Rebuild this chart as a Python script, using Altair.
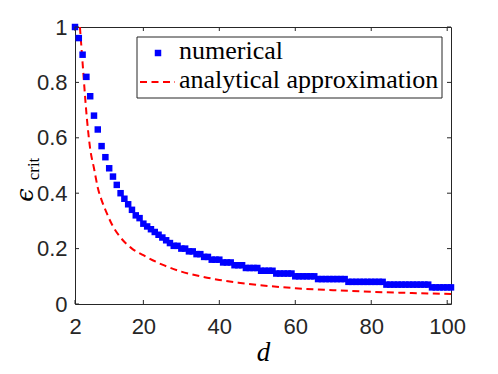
import altair as alt
import pandas as pd

# ---------------- data ----------------
d_num = list(range(2, 102))
eps_num = [
    1.00, 0.96, 0.90, 0.82, 0.75, 0.68, 0.63, 0.57, 0.53, 0.49,   # d 2-11
    0.46, 0.43, 0.40, 0.38, 0.36, 0.34, 0.32, 0.31, 0.29, 0.28,   # d 12-21
    0.27, 0.26, 0.25, 0.24, 0.23, 0.22, 0.21, 0.21, 0.20, 0.20,   # d 22-31
    0.19, 0.19, 0.18, 0.18, 0.17, 0.17, 0.16, 0.16, 0.16, 0.15,   # d 32-41
    0.15, 0.15, 0.14, 0.14, 0.14, 0.13, 0.13, 0.13, 0.13, 0.12,   # d 42-51
    0.12, 0.12, 0.12, 0.11, 0.11, 0.11, 0.11, 0.11, 0.10, 0.10,   # d 52-61
    0.10, 0.10, 0.10, 0.10, 0.09, 0.09, 0.09, 0.09, 0.09, 0.09,   # d 62-71
    0.09, 0.09, 0.08, 0.08, 0.08, 0.08, 0.08, 0.08, 0.08, 0.08,   # d 72-81
    0.08, 0.08, 0.07, 0.07, 0.07, 0.07, 0.07, 0.07, 0.07, 0.07,   # d 82-91
    0.07, 0.07, 0.07, 0.07, 0.06, 0.06, 0.06, 0.06, 0.06, 0.06,   # d 92-101
]
d_ana = [3.3, 4, 5, 6, 7, 8, 9, 10, 12, 14, 17, 20, 25, 30, 35, 40, 45, 50,
         60, 70, 80, 90, 101]
eps_ana = [1.00, 0.87, 0.69, 0.56, 0.49, 0.42, 0.375, 0.34, 0.28, 0.24, 0.20,
           0.176, 0.142, 0.117, 0.100, 0.087, 0.077, 0.069, 0.057, 0.050,
           0.044, 0.040, 0.036]
x_ticks = [2, 20, 40, 60, 80, 100]
y_ticks = [0, 0.2, 0.4, 0.6, 0.8, 1]
series_names = ["numerical", "analytical approximation"]
x_label = "d"
y_label_main = "\u03f5"
y_label_sub = "crit"

# ---------------- tables ----------------
df_num = pd.DataFrame({"d": d_num, "eps": eps_num})
df_ana = pd.DataFrame({"d": d_ana, "eps": eps_ana})
df_xt = pd.DataFrame({"d": x_ticks})
df_yt = pd.DataFrame({"eps": y_ticks})
one = pd.DataFrame({"k": [0]})

W, H = 376, 277
TICK = 4
AX = "#262626"
BLUE = "#0000ff"
RED = "#ff0000"

xs = alt.Scale(domain=[2, 101], nice=False, zero=False)
ys = alt.Scale(domain=[0, 1], nice=False, zero=False)

x_axis = alt.Axis(values=x_ticks, grid=False, domain=False, ticks=False,
                  labelFont="Liberation Sans", labelFontSize=22,
                  labelColor=AX, labelPadding=12, labelFlush=False,
                  title=x_label, titleFont="Liberation Serif",
                  titleFontStyle="italic", titleFontWeight="normal",
                  titleFontSize=27, titleColor="black", titlePadding=2)
y_axis = alt.Axis(values=y_ticks, grid=False, domain=False, ticks=False,
                  format=".1~f", labelFont="Liberation Sans",
                  labelFontSize=22, labelColor=AX, labelPadding=8,
                  title=None)

X = alt.X("d:Q", scale=xs, axis=x_axis)
Y = alt.Y("eps:Q", scale=ys, axis=y_axis)

points = alt.Chart(df_num).mark_square(size=42, color=BLUE, opacity=1).encode(x=X, y=Y)
line = alt.Chart(df_ana).mark_line(color=RED, strokeWidth=2, strokeDash=[7, 4.5],
                                   interpolate="monotone").encode(x=X, y=Y)

tb = alt.Chart(df_xt).mark_rule(color=AX, strokeWidth=1).encode(
    x=X, y=alt.value(H), y2=alt.value(H - TICK))
tt = alt.Chart(df_xt).mark_rule(color=AX, strokeWidth=1).encode(
    x=X, y=alt.value(0), y2=alt.value(TICK))
tl = alt.Chart(df_yt).mark_rule(color=AX, strokeWidth=1).encode(
    y=Y, x=alt.value(0), x2=alt.value(TICK))
tr = alt.Chart(df_yt).mark_rule(color=AX, strokeWidth=1).encode(
    y=Y, x=alt.value(W), x2=alt.value(W - TICK))

# legend box
leg_box = alt.Chart(one).mark_rect(fill="white", stroke=AX, strokeWidth=1).encode(
    x=alt.value(62), x2=alt.value(367), y=alt.value(10), y2=alt.value(71))
leg_sq = alt.Chart(one).mark_square(size=42, color=BLUE, opacity=1).encode(
    x=alt.value(83), y=alt.value(26))
leg_ln = alt.Chart(one).mark_rule(color=RED, strokeWidth=2, strokeDash=[7, 4.5]).encode(
    x=alt.value(65), x2=alt.value(100), y=alt.value(55))
leg_t1 = alt.Chart(one).mark_text(align="left", baseline="alphabetic",
                                  font="Liberation Serif", fontSize=26,
                                  color="black").encode(
    x=alt.value(104), y=alt.value(32), text=alt.value(series_names[0]))
leg_t2 = alt.Chart(one).mark_text(align="left", baseline="alphabetic",
                                  font="Liberation Serif", fontSize=26,
                                  color="black").encode(
    x=alt.value(104), y=alt.value(61), text=alt.value(series_names[1]))

# y title: epsilon with subscript
yt_main = alt.Chart(one).mark_text(angle=270, font="DejaVu Serif", fontStyle="italic",
                                   fontSize=24, color="black").encode(
    x=alt.value(-49), y=alt.value(168), text=alt.value(y_label_main))
yt_sub = alt.Chart(one).mark_text(angle=270, font="Liberation Serif",
                                  fontSize=17, color="black").encode(
    x=alt.value(-41), y=alt.value(142), text=alt.value(y_label_sub))

chart = alt.layer(
    line, points, tb, tt, tl, tr,
    leg_box, leg_sq, leg_ln, leg_t1, leg_t2, yt_main, yt_sub
).properties(
    width=W, height=H,
    autosize=alt.AutoSizeParams(type="none"),
    padding={"left": 67, "top": 19, "right": 30, "bottom": 61},
    background="white",
).configure_view(stroke=AX, strokeWidth=1)

chart.save("out.html", embed_options={"renderer": "svg", "actions": False})
